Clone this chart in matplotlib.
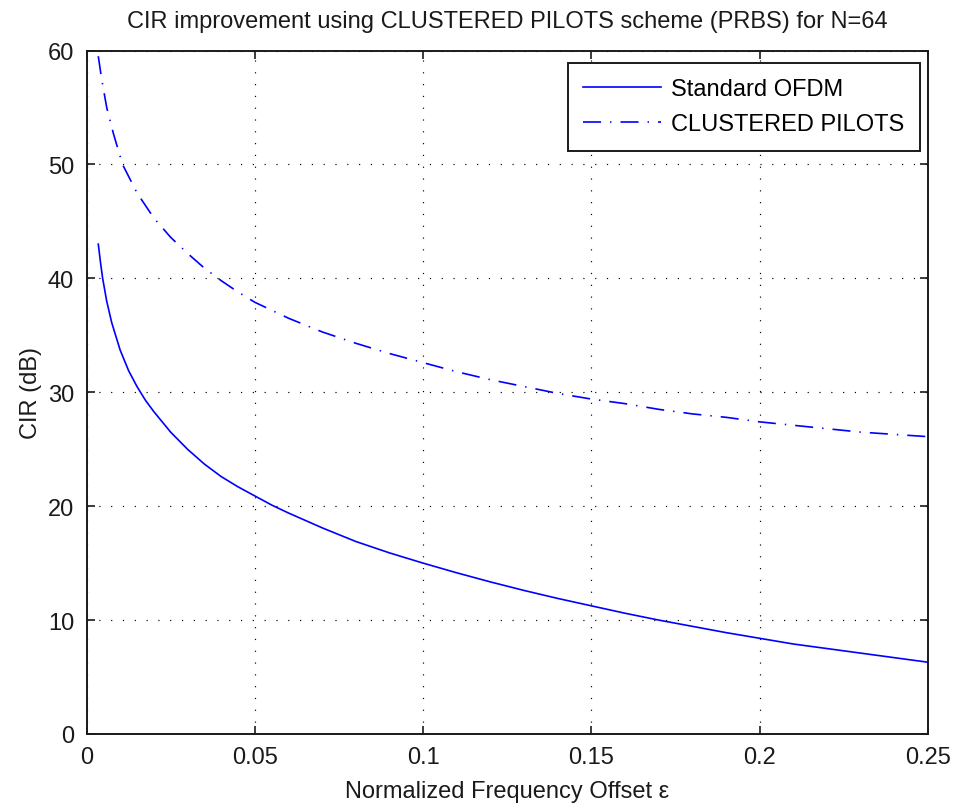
import numpy as np
import matplotlib
matplotlib.use("Agg")
from matplotlib import pyplot as plt

plt.rcParams['font.family'] = ['Liberation Sans', 'DejaVu Sans']

# values
eps_std = [0.0035, 0.0042, 0.0048, 0.006, 0.0075, 0.01, 0.0125, 0.015, 0.0175,
           0.02, 0.025, 0.03, 0.035, 0.04, 0.045, 0.05, 0.055, 0.06, 0.07, 0.08,
           0.09, 0.1, 0.11, 0.12, 0.13, 0.14, 0.15, 0.16, 0.17, 0.18, 0.19, 0.2,
           0.21, 0.22, 0.23, 0.24, 0.25]
cir_std = [43.0, 41.3, 40.0, 38.0, 36.1, 33.7, 31.9, 30.5, 29.3,
           28.3, 26.5, 25.0, 23.7, 22.6, 21.7, 20.9, 20.1, 19.4, 18.1, 16.9,
           15.9, 15.0, 14.15, 13.35, 12.6, 11.9, 11.25, 10.6, 10.0, 9.45, 8.9, 8.4,
           7.9, 7.5, 7.1, 6.7, 6.3]

eps_cp = [0.0035, 0.0045, 0.006, 0.008, 0.0107, 0.015, 0.02, 0.025, 0.03, 0.035,
          0.04, 0.045, 0.05, 0.06, 0.07, 0.08, 0.09, 0.1, 0.11, 0.12, 0.13, 0.14,
          0.15, 0.16, 0.17, 0.18, 0.19, 0.2, 0.21, 0.22, 0.23, 0.24, 0.25]
cir_cp = [59.5, 57.5, 55.0, 52.7, 50.0, 47.5, 45.3, 43.6, 42.2, 40.9,
          39.8, 38.8, 37.9, 36.5, 35.3, 34.3, 33.4, 32.6, 31.8, 31.1, 30.5, 29.9,
          29.4, 29.0, 28.5, 28.1, 27.8, 27.4, 27.1, 26.8, 26.5, 26.3, 26.1]

xticks = [0, 0.05, 0.1, 0.15, 0.2, 0.25]
xticklabels = ['0', '0.05', '0.1', '0.15', '0.2', '0.25']
yticks = [0, 10, 20, 30, 40, 50, 60]

fs = 17
ink = '#1a1a1a'

fig = plt.figure(figsize=(9.58, 8.12), dpi=100)
ax = fig.add_axes([86.5 / 958, 1 - 735 / 812, 841.5 / 958, 683.5 / 812])

lw = 1.2
ax.plot(eps_std, cir_std, color='#0000ff', lw=lw, label='Standard OFDM')
ax.plot(eps_cp, cir_cp, color='#0000ff', lw=lw,
        linestyle=(0, (13 / lw, 6.5 / lw, 1 / lw, 6.5 / lw)), label='CLUSTERED PILOTS')

ax.set_xlim(0, 0.25)
ax.set_ylim(0, 60)
ax.set_xticks(xticks)
ax.set_xticklabels(xticklabels)
ax.set_yticks(yticks)

ax.grid(True, color='black', linestyle=(0, (1, 9)), linewidth=0.85)
ax.tick_params(direction='in', length=6, width=1.2, labelsize=fs,
               top=True, right=True, colors=ink, labelcolor=ink)
ax.tick_params(axis='y', pad=9)
ax.tick_params(axis='x', pad=9)
for s in ax.spines.values():
    s.set_linewidth(1.4)
    s.set_color(ink)

ax.set_title('CIR improvement using CLUSTERED PILOTS scheme (PRBS) for N=64',
             fontsize=fs, pad=17, color=ink)
ax.set_xlabel('Normalized Frequency Offset ε', fontsize=fs, labelpad=8, color=ink)
ax.set_ylabel('CIR (dB)', fontsize=fs, labelpad=4, color=ink)

leg = ax.legend(loc='upper right', bbox_to_anchor=(0.9905, 0.9817), borderaxespad=0,
                fontsize=fs, fancybox=False, framealpha=1, edgecolor=ink,
                handlelength=3.3, handletextpad=0.45, labelspacing=0.55, borderpad=0.65)
leg.get_frame().set_linewidth(1.4)

fig.savefig('out.png', dpi=100)
